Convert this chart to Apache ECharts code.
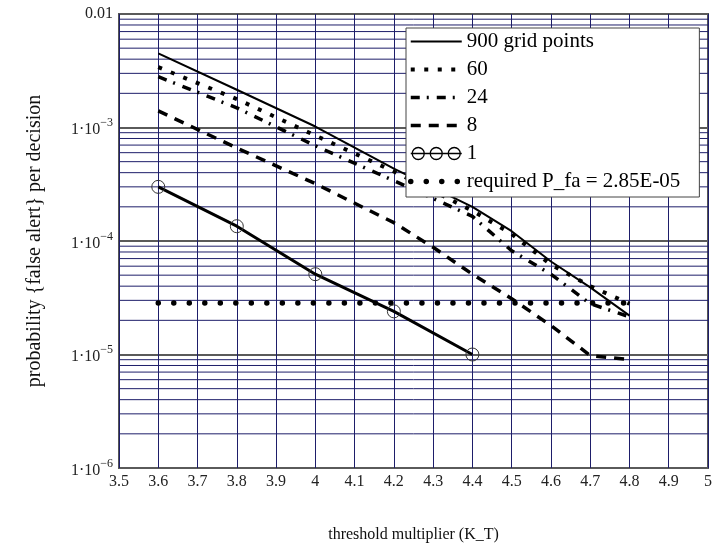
<!DOCTYPE html>
<html>
<head>
<meta charset="utf-8">
<script src="https://cdn.jsdelivr.net/npm/echarts@6/dist/echarts.min.js"></script>
<style>
html,body{margin:0;padding:0;background:#fff;}
#c{width:715px;height:548px;}
</style>
</head>
<body>
<div id="c"></div>
<script>
// ---- data ----
const seriesNames = ['900 grid points', '60', '24', '8', '1', 'required P_fa = 2.85E-05'];
const x900 = [3.6, 3.8, 4.0, 4.2, 4.4, 4.5, 4.6, 4.7, 4.8];
const p900 = [4.5e-3, 2.15e-3, 1.02e-3, 4.35e-4, 2.0e-4, 1.22e-4, 6.6e-5, 3.9e-5, 2.2e-5];
const x60 = [3.6, 3.8, 4.0, 4.2, 4.4, 4.5, 4.6, 4.7, 4.8];
const p60 = [3.4e-3, 1.78e-3, 8.5e-4, 4.1e-4, 1.85e-4, 1.15e-4, 6.2e-5, 4.0e-5, 2.8e-5];
const x24 = [3.6, 3.8, 4.0, 4.2, 4.4, 4.5, 4.6, 4.7, 4.8];
const p24 = [2.8e-3, 1.49e-3, 6.9e-4, 3.4e-4, 1.65e-4, 8.2e-5, 5.1e-5, 2.8e-5, 2.15e-5];
const x8 = [3.6, 3.8, 4.0, 4.2, 4.3, 4.4, 4.5, 4.6, 4.7, 4.8];
const p8 = [1.4e-3, 6.6e-4, 3.2e-4, 1.45e-4, 8.8e-5, 5.1e-5, 3.1e-5, 1.8e-5, 9.8e-6, 9.0e-6];
const x1 = [3.6, 3.8, 4.0, 4.2, 4.4];
const p1 = [3.0e-4, 1.35e-4, 5.1e-5, 2.4e-5, 1.0e-5];
const xReq = [3.6, 4.8];
const pReq = [2.85e-5, 2.85e-5];
const xMin = 3.5, xMax = 5.0, xStep = 0.1;
const yMin = 1e-6, yMax = 1e-2;

// ---- helpers ----
function pairs(xs, ys) { return xs.map((x, i) => [x, ys[i]]); }
const FONT = 'Liberation Serif';
const NAVY = '#1e1e6a';

// minor log gridlines (2..9 x 10^n) as one broken line series
const minorGrid = [];
for (let e = -6; e < -2; e++) {
  for (let k = 2; k <= 9; k++) {
    const v = k * Math.pow(10, e);
    minorGrid.push([xMin, v], [xMax, v], [xMax, '-']);
  }
}

const circlesIcon = 'path://M0,7L51,7M1.5,7a6,6 0 1,0 12,0a6,6 0 1,0 -12,0M19.5,7a6,6 0 1,0 12,0a6,6 0 1,0 -12,0M37.5,7a6,6 0 1,0 12,0a6,6 0 1,0 -12,0';

const styles = {
  s900: { color: '#000', width: 2, type: 'solid' },
  s60: { color: '#000', width: 4, type: [4, 9.5], cap: 'butt' },
  s24: { color: '#000', width: 3.5, type: [9, 7, 2, 8], cap: 'butt' },
  s8: { color: '#000', width: 3.5, type: [10, 8], cap: 'butt' },
  s1: { color: '#000', width: 3, type: 'solid' },
  sReq: { color: '#000', width: 5.5, type: [0.01, 15.5], cap: 'round' }
};

const chart = echarts.init(document.getElementById('c'), null, { renderer: 'canvas' });
chart.setOption({
  animation: false,
  backgroundColor: '#fff',
  grid: { left: 119, top: 14, width: 590, height: 460, show: true, borderColor: '#555', borderWidth: 2, backgroundColor: 'transparent' },
  xAxis: {
    type: 'value', min: xMin, max: xMax, interval: xStep,
    axisLine: { show: false }, axisTick: { show: false },
    axisLabel: { fontFamily: FONT, fontSize: 16, color: '#222', margin: 6 },
    splitLine: { show: true, lineStyle: { color: NAVY, width: 1 } },
    name: 'threshold multiplier (K_T)', nameLocation: 'middle', nameGap: 59,
    nameTextStyle: { fontFamily: FONT, fontSize: 16, color: '#111' }
  },
  yAxis: {
    type: 'log', logBase: 10, min: yMin, max: yMax,
    axisLine: { show: false }, axisTick: { show: false },
    axisLabel: {
      margin: 6, color: '#222', fontFamily: FONT, fontSize: 16,
      formatter: function (v) {
        const e = Math.round(Math.log10(v));
        if (e === -2) return '{m|0.01}';
        return '{m|1·10}{s|−' + (-e) + '}';
      },
      rich: {
        m: { fontFamily: FONT, fontSize: 16, color: '#222', verticalAlign: 'bottom' },
        s: { fontFamily: FONT, fontSize: 12, color: '#222', verticalAlign: 'bottom', padding: [0, 0, 9, 0] }
      }
    },
    splitLine: { show: true, lineStyle: { color: '#5a5a5a', width: 2 } },
    name: 'probability {false alert} per decision', nameLocation: 'middle', nameGap: 74,
    nameTextStyle: { fontFamily: FONT, fontSize: 20, color: '#111' }
  },
  legend: {
    orient: 'vertical', left: 406, top: 28,
    itemWidth: 51, itemHeight: 14, itemGap: 7,
    padding: [3, 19, 5, 2],
    backgroundColor: '#fff', borderColor: '#444', borderWidth: 1,
    textStyle: { fontFamily: FONT, fontSize: 21, color: '#000', lineHeight: 21 },
    itemStyle: { opacity: 0 },
    data: [
      { name: seriesNames[0], lineStyle: styles.s900 },
      { name: seriesNames[1], lineStyle: styles.s60 },
      { name: seriesNames[2], lineStyle: styles.s24 },
      { name: seriesNames[3], lineStyle: styles.s8 },
      { name: seriesNames[4], icon: circlesIcon, itemStyle: { opacity: 1, color: 'rgba(0,0,0,0)', borderColor: '#000', borderWidth: 1.3 } },
      { name: seriesNames[5], lineStyle: styles.sReq }
    ],
    z: 10
  },
  series: [
    {
      name: 'gridMinor', type: 'line', z: 1, silent: true, symbol: 'none',
      data: minorGrid, connectNulls: false,
      lineStyle: { color: NAVY, width: 1, type: 'solid' },
      emphasis: { disabled: true }
    },
    {
      name: seriesNames[0], type: 'line', z: 3, symbol: 'none',
      data: pairs(x900, p900), lineStyle: styles.s900, itemStyle: { color: '#000' }
    },
    {
      name: seriesNames[1], type: 'line', z: 3, symbol: 'none',
      data: pairs(x60, p60), lineStyle: styles.s60, itemStyle: { color: '#000' }
    },
    {
      name: seriesNames[2], type: 'line', z: 3, symbol: 'none',
      data: pairs(x24, p24), lineStyle: styles.s24, itemStyle: { color: '#000' }
    },
    {
      name: seriesNames[3], type: 'line', z: 3, symbol: 'none',
      data: pairs(x8, p8), lineStyle: styles.s8, itemStyle: { color: '#000' }
    },
    {
      name: seriesNames[4], type: 'line', z: 3, symbol: 'circle', symbolSize: 13, showSymbol: true,
      data: pairs(x1, p1), lineStyle: styles.s1,
      itemStyle: { color: 'rgba(0,0,0,0)', borderColor: '#333', borderWidth: 1 }
    },
    {
      name: seriesNames[5], type: 'line', z: 3, symbol: 'none',
      data: pairs(xReq, pReq), lineStyle: styles.sReq, itemStyle: { color: '#000' }
    }
  ]
});
</script>
</body>
</html>
